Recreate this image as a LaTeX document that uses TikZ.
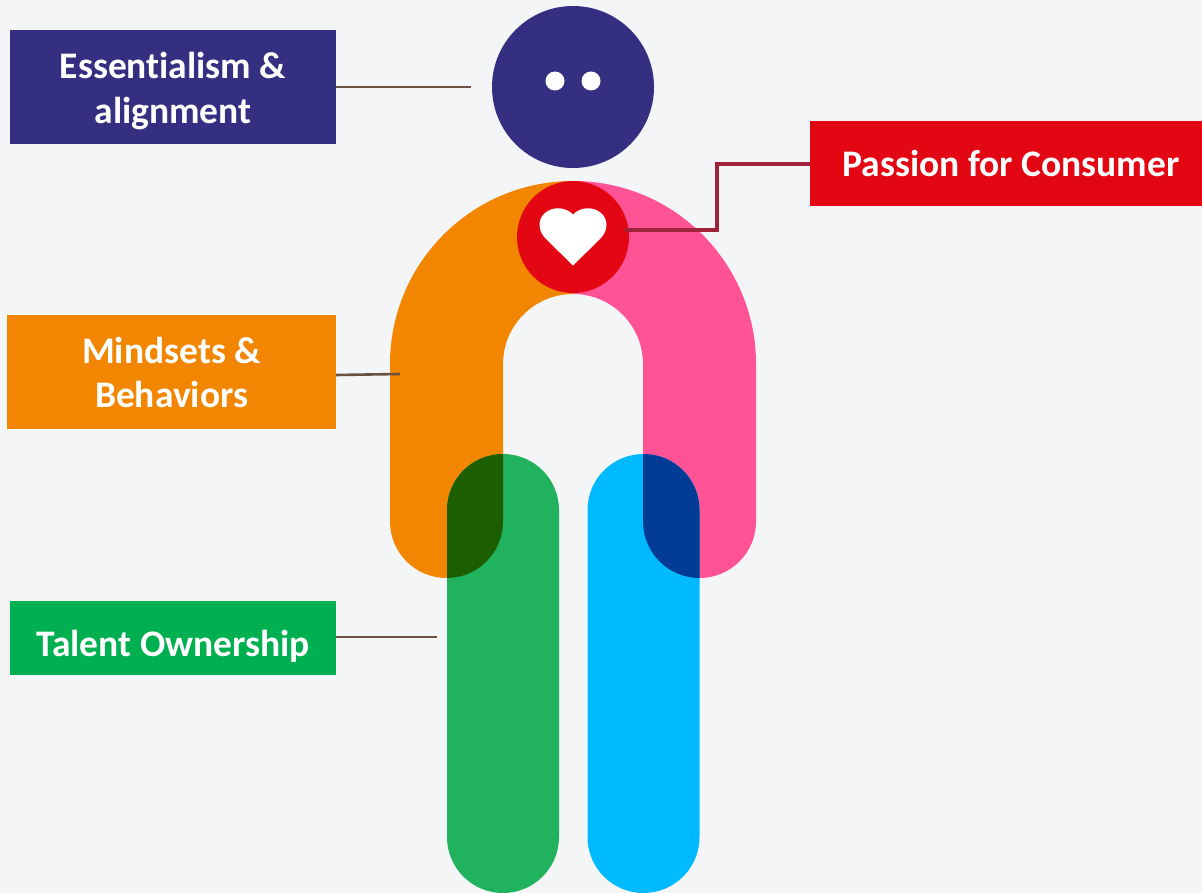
\documentclass[tikz,border=0pt]{standalone}
\usepackage{fontspec}
\setmainfont[Ligatures=NoCommon]{Carlito}
\definecolor{bgc}{HTML}{F3F5F7}
\definecolor{navyc}{HTML}{352F81}
\definecolor{orangec}{HTML}{F38600}
\definecolor{pinkc}{HTML}{FF5396}
\definecolor{greenc}{HTML}{20B25C}
\definecolor{labelgreen}{HTML}{00B050}
\definecolor{bluec}{HTML}{00BAFF}
\definecolor{redc}{HTML}{E30613}
\definecolor{darkgreenc}{HTML}{1C5E00}
\definecolor{darkbluec}{HTML}{003C96}
\definecolor{brownc}{HTML}{6B5344}
\definecolor{wirec}{HTML}{A0233C}
\tikzset{
  labelbox/.style={inner sep=0pt,outer sep=0pt,text=white,align=center,
    font=\fontsize{37.5}{44.5}\selectfont\bfseries},
  leader/.style={draw=brownc,line width=2.6pt},
  wire/.style={draw=wirec,line width=4pt,miter limit=10},
  disc/.style={circle,inner sep=0pt,outer sep=0pt},
}
\def\leftarm{(390,521.5) -- (390,364) arc[start angle=180,end angle=270,radius=183] -- (573,294)
  arc[start angle=270,end angle=180,radius=70] -- (503,521.5)
  arc[start angle=0,end angle=180,radius=56.5] -- cycle}
\def\rightarm{(756,521.5) -- (756,364) arc[start angle=0,end angle=-90,radius=183] -- (573,294)
  arc[start angle=-90,end angle=0,radius=70] -- (643,521.5)
  arc[start angle=180,end angle=0,radius=56.5] -- cycle}
\def\leftleg{(447,510) arc[start angle=180,end angle=360,radius=56] -- (559,837)
  arc[start angle=0,end angle=180,radius=56] -- cycle}
\def\rightleg{(587.5,510) arc[start angle=180,end angle=360,radius=56] -- (699.5,837)
  arc[start angle=0,end angle=180,radius=56] -- cycle}
\begin{document}
\begin{tikzpicture}[x=1pt,y=-1pt]
\path[use as bounding box,fill=bgc] (0,0) rectangle (1202,893);
% body
\fill[orangec] \leftarm;
\fill[pinkc] \rightarm;
\fill[greenc] \leftleg;
\fill[bluec] \rightleg;
\begin{scope}
  \clip \leftleg;
  \fill[darkgreenc] \leftarm;
\end{scope}
\begin{scope}
  \clip \rightleg;
  \fill[darkbluec] \rightarm;
\end{scope}
% head
\node[disc,fill=navyc,minimum size=162pt] (head) at (573,87) {};
\node[disc,fill=white,minimum size=19pt] (eyeL) at (555,81) {};
\node[disc,fill=white,minimum size=19pt] (eyeR) at (591,81) {};
% labels
\node[labelbox,fill=navyc,minimum width=326pt,minimum height=114pt] (essential) at (173,87) {\rule{0pt}{34pt}Essentialism \&\\alignment};
\node[labelbox,fill=orangec,minimum width=329pt,minimum height=114pt] (mindsets) at (171.5,372) {\rule{0pt}{27pt}Mindsets \&\\Behaviors};
\node[labelbox,fill=labelgreen,minimum width=326pt,minimum height=74pt] (talent) at (173,638) {\rule{0pt}{42pt}Talent Ownership};
\node[labelbox,fill=redc,minimum width=392pt,minimum height=85pt] (passion) at (1006,163.5) {\hspace*{10pt}Passion for Consumer};
% heart disc
\node[disc,fill=redc,minimum size=112pt] (heartdisc) at (573,237) {};
\fill[white] (573,265.5) -- (546,239)
  .. controls (537,230) and (538,219) .. (545,213)
  .. controls (553,206) and (566,207) .. (573,214.5)
  .. controls (580,207) and (593,206) .. (601,213)
  .. controls (608,219) and (609,230) .. (600,239) -- cycle;
% connectors
\coordinate (essentialEnd) at (471,87);
\coordinate (mindsetsEnd) at (400,374);
\coordinate (talentEnd) at (437,637);
\coordinate (heartEnd) at (625,230);
\coordinate (bendA) at (717,230);
\coordinate (bendB) at (717,164);
\draw[leader] (essential.east) -- (essentialEnd);
\draw[leader] (mindsets.east |- 0,375) -- (mindsetsEnd);
\draw[leader] (talent.east |- talentEnd) -- (talentEnd);
\draw[wire] (heartEnd) -- (bendA) -- (bendB) -- (bendB -| passion.west);
\end{tikzpicture}
\end{document}
